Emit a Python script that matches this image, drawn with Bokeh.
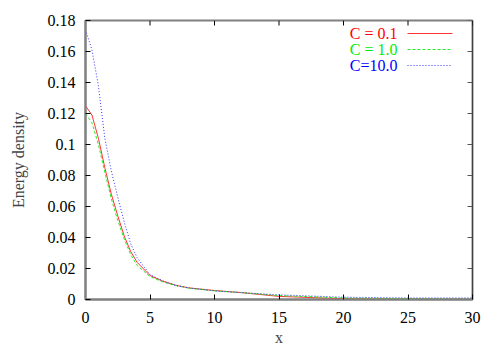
import math
from bokeh.plotting import figure
from bokeh.models import LinearAxis, FixedTicker, Range1d, Label, Span
from bokeh.embed import file_html
from bokeh.resources import INLINE

x = [0, 0.5, 1, 1.5, 2, 2.5, 3, 3.5, 4, 5, 6, 7, 8, 10, 12, 15, 20, 25, 30]
c01 = [0.125, 0.119, 0.104, 0.085, 0.068, 0.054, 0.041, 0.031, 0.024, 0.0155, 0.0118, 0.0092,
       0.0075, 0.0058, 0.0045, 0.002, 0.0005, 0.0002, 0.0001]
c1 = [0.120, 0.114, 0.100, 0.082, 0.065, 0.051, 0.039, 0.029, 0.022, 0.0148, 0.0113, 0.009,
      0.0073, 0.0056, 0.0045, 0.0025, 0.001, 0.0005, 0.0002]
c10 = [0.174, 0.161, 0.138, 0.104, 0.083, 0.066, 0.050, 0.036, 0.027, 0.016, 0.012, 0.009,
       0.0075, 0.0055, 0.0045, 0.003, 0.0015, 0.001, 0.001]

series_names = ["C = 0.1", "C = 1.0", "C=10.0"]
series_colors = ["#ff3333", "#22ee22", "#3333ff"]
series_dash = ["solid", "3 2", "1 2"]

x_ticks = [0, 5, 10, 15, 20, 25, 30]
y_ticks = [0, 0.02, 0.04, 0.06, 0.08, 0.1, 0.12, 0.14, 0.16, 0.18]
y_tick_labels = ["0", "0.02", "0.04", "0.06", "0.08", "0.1", "0.12", "0.14", "0.16", "0.18"]
label_colors = ["#ff0000", "#00ee00", "#0000ff"]

FONT = "Liberation Serif"

p = figure(width=500, height=350, x_range=Range1d(0, 30), y_range=Range1d(0, 0.18),
           output_backend="svg", toolbar_location=None,
           min_border_left=85, min_border_right=28, min_border_top=20, min_border_bottom=51,
           x_axis_location=None, y_axis_location=None)
# pixel-like helper ranges for placing the legend inside the frame
p.extra_x_ranges = {"px": Range1d(0, 387)}
p.extra_y_ranges = {"py": Range1d(0, 279)}
p.outline_line_color = "#808080"
p.outline_line_width = 2
p.xgrid.visible = False
p.ygrid.visible = False

def style_axis(ax, ticks, labels=None):
    ax.ticker = FixedTicker(ticks=ticks)
    ax.major_tick_in = 5
    ax.major_tick_out = 0
    ax.minor_tick_in = 0
    ax.minor_tick_out = 0
    ax.major_tick_line_color = "black"
    ax.axis_line_color = "#808080"
    ax.axis_line_width = 2
    ax.major_label_text_font = FONT
    ax.major_label_text_color = "black"
    ax.major_label_text_font_size = "16px"
    ax.axis_label_text_font = FONT
    ax.axis_label_text_font_style = "normal"
    ax.axis_label_text_font_size = "16px"
    if labels is not None:
        ax.major_label_overrides = {t: l for t, l in zip(ticks, labels)}

xb = LinearAxis(axis_label="x")
style_axis(xb, x_ticks)
xb.major_label_standoff = 12
xb.axis_label_standoff = 3
p.add_layout(xb, "below")

yl = LinearAxis(axis_label="Energy density")
style_axis(yl, y_ticks, y_tick_labels)
yl.major_label_standoff = 10
yl.axis_label_standoff = 18
p.add_layout(yl, "left")

# right border (black) and mirrored inward ticks on top and right
p.add_layout(Span(location=x_ticks[-1], dimension="height", line_color="black", line_width=1))
p.ray(x=x_ticks, y=[y_ticks[-1]] * len(x_ticks), length=5, length_units="screen",
      angle=-math.pi / 2, line_color="black", line_width=1)
p.ray(x=[x_ticks[-1]] * len(y_ticks), y=y_ticks, length=5, length_units="screen",
      angle=math.pi, line_color="#555555", line_width=1)

for ys, col, dash in zip([c01, c1, c10], series_colors, series_dash):
    p.line(x, ys, line_color=col, line_width=1, line_dash=dash)

# legend (gnuplot style: right-aligned text, sample line to its right)
for i, (name, col, lcol, dash) in enumerate(zip(series_names, series_colors, label_colors, series_dash)):
    yy = 266 - 16 * i
    p.add_layout(Label(x=312, y=yy, x_units="screen", y_units="screen", text=name,
                       text_font=FONT, text_font_size="16px", text_color=lcol,
                       text_align="right", text_baseline="middle"))
    p.segment(x0=[322], y0=[yy], x1=[367], y1=[yy], x_range_name="px", y_range_name="py",
              line_color=col, line_width=1, line_dash=dash)

open("out.html", "w").write(file_html(p, INLINE))
